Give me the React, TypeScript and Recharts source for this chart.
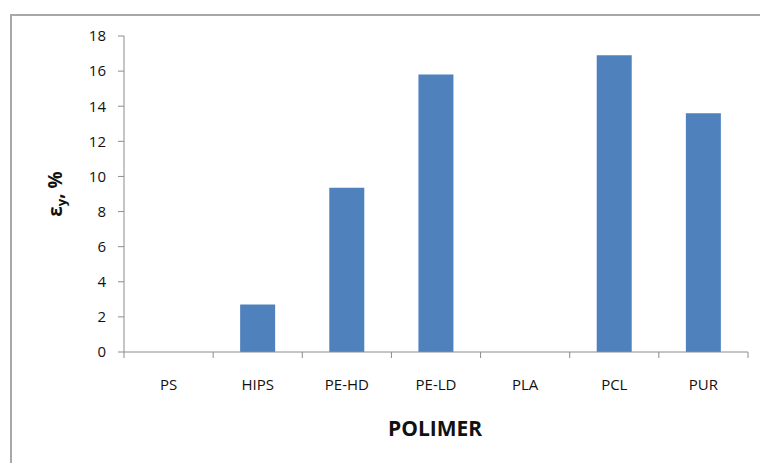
import { BarChart, Bar, XAxis, YAxis } from 'recharts';

const categories = ['PS', 'HIPS', 'PE-HD', 'PE-LD', 'PLA', 'PCL', 'PUR'];
const strainValues = [0, 2.7, 9.35, 15.8, 0, 16.9, 13.6];
const yTicks = [0, 2, 4, 6, 8, 10, 12, 14, 16, 18];

const chartData = categories.map((name, i) => ({ name, value: strainValues[i] }));

const W = 760;
const H = 463;
const PLOT_LEFT = 124;
const PLOT_RIGHT = 748;
const band = (PLOT_RIGHT - PLOT_LEFT) / categories.length;
const axisColor = '#8c8c8c';
const font = '"Open Sans", "Liberation Sans", sans-serif';

function CategoryTick(props: any) {
  const { x, y, payload, index } = props;
  const last = index === categories.length - 1;
  return (
    <g>
      <line x1={x - band / 2} y1={y} x2={x - band / 2} y2={y + 6} stroke={axisColor} />
      {last && <line x1={x + band / 2} y1={y} x2={x + band / 2} y2={y + 6} stroke={axisColor} />}
      <text x={x} y={y + 38} textAnchor="middle" fontSize={15} fill="#111" fontFamily={font}>
        {payload.value}
      </text>
    </g>
  );
}

function YLabel() {
  return (
    <text
      x={62}
      y={194}
      transform="rotate(-90 62 194)"
      textAnchor="middle"
      fontSize={19}
      fontWeight="bold"
      fill="#111"
      fontFamily={font}
    >
      ε<tspan fontSize={13} dy={4}>y</tspan>
      <tspan dy={-4}>, %</tspan>
    </text>
  );
}

export default function App() {
  return (
    <div style={{ position: 'absolute', left: 0, top: 0, width: W, height: H, overflow: 'hidden', background: '#fff' }}>
      <div
        style={{
          position: 'absolute',
          left: 10,
          top: 14,
          width: W,
          height: H,
          borderTop: '2px solid #a8a8a8',
          borderLeft: '2px solid #a8a8a8',
        }}
      />
      <div style={{ position: 'absolute', left: 0, top: 0 }}>
        <BarChart
          width={W}
          height={H}
          data={chartData}
          margin={{ top: 36, right: W - PLOT_RIGHT, bottom: 51, left: 64 }}
        >
          <XAxis
            dataKey="name"
            height={60}
            stroke={axisColor}
            tickLine={false}
            tickSize={0}
            tickMargin={0}
            interval={0}
            tick={<CategoryTick />}
          />
          <YAxis
            width={60}
            domain={[0, 18]}
            ticks={yTicks}
            interval={0}
            stroke={axisColor}
            tickSize={6}
            tickMargin={12}
            tick={{ fontSize: 15, fill: '#111', fontFamily: font }}
            label={<YLabel />}
          />
          <Bar dataKey="value" fill="#4f81bd" barSize={35} isAnimationActive={false} />
        </BarChart>
      </div>
      <div
        style={{
          position: 'absolute',
          left: 388,
          top: 414,
          fontFamily: font,
          fontWeight: 'bold',
          fontSize: 21,
          color: '#111',
        }}
      >
        POLIMER
      </div>
    </div>
  );
}
